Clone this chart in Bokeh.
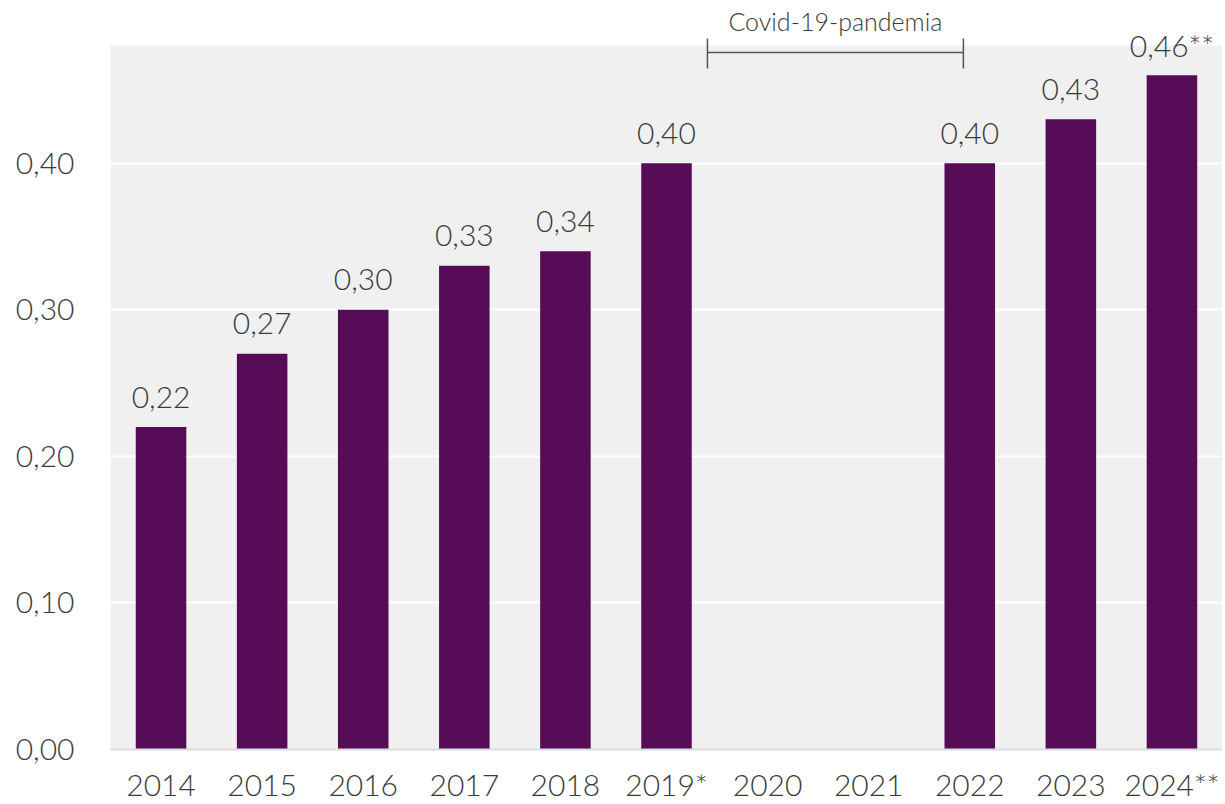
import numpy as np
from bokeh.plotting import figure
from bokeh.models import ColumnDataSource, FixedTicker, CustomJSTickFormatter, BoxAnnotation, Range1d
from bokeh.core.properties import value
from bokeh.embed import file_html
from bokeh.resources import INLINE

# ---- data ----
years = ["2014", "2015", "2016", "2017", "2018", "2019*", "2020", "2021", "2022", "2023", "2024**"]
values = [0.22, 0.27, 0.30, 0.33, 0.34, 0.40, None, None, 0.40, 0.43, 0.46]
labels = ["0,22", "0,27", "0,30", "0,33", "0,34", "0,40", "", "", "0,40", "0,43", "0,46**"]
y_ticks = [0.0, 0.1, 0.2, 0.3, 0.4]
covid_label = "Covid-19-pandemia"

FONT = "'Lato Light', Lato"
TXT = "#3a3a3a"
BAR = "#570c57"

xs = list(range(len(years)))
vals = [np.nan if v is None else v for v in values]
src = ColumnDataSource(dict(x=xs, top=vals))
lab_idx = [i for i, v in enumerate(values) if v is not None]
lab_src = ColumnDataSource(dict(x=[xs[i] for i in lab_idx],
                                y=[values[i] for i in lab_idx],
                                t=[labels[i] for i in lab_idx]))

p = figure(width=1222, height=804, output_backend="svg", toolbar_location=None,
           x_range=Range1d(-0.5, 10.5), y_range=Range1d(0, 0.5056),
           min_border_left=110, min_border_right=0, min_border_top=8, min_border_bottom=40,
           background_fill_color="white", border_fill_color="white", outline_line_color=None)

# gray plot area
p.add_layout(BoxAnnotation(left=-0.5, right=10.5, bottom=0, top=0.4804,
                           fill_color="#f0f0f0", fill_alpha=1.0, line_color=None, level="image"))

p.vbar(x="x", top="top", width=0.5, source=src, color=BAR, line_color=None)

p.text(x="x", y="y", text="t", source=lab_src, text_align="center", text_baseline="alphabetic",
       y_offset=-30, text_font=value(FONT), text_font_size="30px", text_color=TXT)

# covid bracket
cx0, cx1 = 5.405, 7.937
p.segment(x0=[cx0], y0=[0.4756], x1=[cx1], y1=[0.4756], line_color="#555555", line_width=1.5)
p.segment(x0=[cx0, cx1], y0=[0.4647, 0.4647], x1=[cx0, cx1], y1=[0.4852, 0.4852],
          line_color="#555555", line_width=1.5)
p.text(x=[(cx0 + cx1) / 2], y=[0.4974], text=[covid_label], text_align="center",
       text_baseline="middle", text_font=value(FONT), text_font_size="25px", text_color=TXT)

# axes
p.xaxis.ticker = FixedTicker(ticks=xs)
p.xaxis.major_label_overrides = {i: y for i, y in enumerate(years)}
p.xaxis.major_tick_line_color = None
p.xaxis.minor_tick_line_color = None
p.xaxis.axis_line_color = "#dcdcdc"
p.xaxis.axis_line_width = 2
p.xaxis.major_label_standoff = 10
p.xaxis.major_label_text_font = FONT
p.xaxis.major_label_text_font_size = "30px"
p.xaxis.major_label_text_color = TXT

p.yaxis.ticker = FixedTicker(ticks=y_ticks)
p.yaxis.formatter = CustomJSTickFormatter(code="return tick.toFixed(2).replace('.', ',');")
p.yaxis.axis_line_color = None
p.yaxis.major_tick_line_color = None
p.yaxis.minor_tick_line_color = None
p.yaxis.major_label_standoff = 30
p.yaxis.major_label_text_font = FONT
p.yaxis.major_label_text_font_size = "30px"
p.yaxis.major_label_text_color = TXT

p.xgrid.grid_line_color = None
p.ygrid.ticker = FixedTicker(ticks=y_ticks[1:])
p.ygrid.grid_line_color = "white"
p.ygrid.grid_line_width = 2

open("out.html", "w").write(file_html(p, INLINE))
